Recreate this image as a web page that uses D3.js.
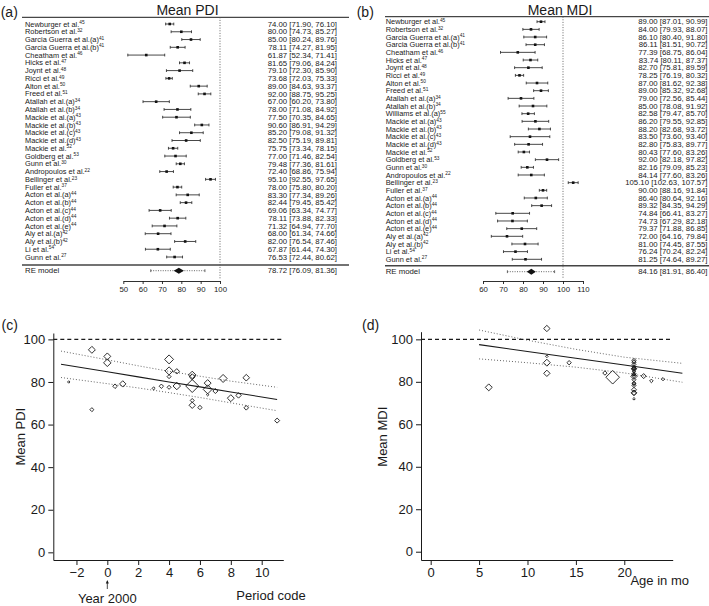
<!DOCTYPE html>
<html><head><meta charset="utf-8">
<script src="https://cdn.jsdelivr.net/npm/d3@7"></script>
<style>body{margin:0;background:#fff}svg{display:block;font-family:"Liberation Sans",Arial,Helvetica,sans-serif}</style>
</head><body><svg id="chart" width="709" height="606"></svg>
<script>
// ---------------- DATA ----------------
const pdiNames = ["Newburger et al.","Robertson et al.","Garcia Guerra et al.(a)","Garcia Guerra et al.(b)","Cheatham et al.","Hicks et al.","Joynt et al.","Ricci et al.","Alton et al.","Freed et al.","Atallah et al.(a)","Atallah et al.(b)","Mackie et al.(a)","Mackie et al.(b)","Mackie et al.(c)","Mackie et al.(d)","Mackie et al.","Goldberg et al.","Gunn et al.","Andropoulos et al.","Bellinger et al.","Fuller et al.","Acton et al.(a)","Acton et al.(b)","Acton et al.(c)","Acton et al.(d)","Acton et al.(e)","Aly et al.(a)","Aly et al.(b)","Li et al.","Gunn et al."];
const pdiRefs = [45,32,41,41,46,47,48,49,50,51,34,34,43,43,43,43,52,53,30,22,23,37,44,44,44,44,44,42,42,54,27];
const pdiMean = [74.00,80.00,85.00,78.11,61.87,81.65,79.10,73.68,89.00,92.00,67.00,78.00,77.50,90.60,85.20,82.50,75.75,77.00,79.48,72.40,95.10,78.00,83.30,82.44,69.06,78.11,71.32,68.00,82.00,67.87,76.53];
const pdiLo = [71.90,74.73,80.24,74.27,52.34,79.06,72.30,72.03,84.63,88.75,60.20,71.08,70.35,86.91,79.08,75.19,73.34,71.46,77.36,68.86,92.55,75.80,77.34,79.45,63.34,73.88,64.94,61.34,76.54,61.44,72.44];
const pdiHi = [76.10,85.27,89.76,81.95,71.41,84.24,85.90,75.33,93.37,95.25,73.80,84.92,84.65,94.29,91.32,89.81,78.15,82.54,81.61,75.94,97.65,80.20,89.26,85.42,74.77,82.33,77.70,74.66,87.46,74.30,80.62];
const pdiRE = [78.72, 76.09, 81.36];   // estimate, lower, upper
const pdiPI = [64.2, 92.2];            // prediction interval
const pdiTicks = [50,60,70,80,90,100];

const mdiNames = ["Newburger et al.","Robertson et al.","Garcia Guerra et al.(a)","Garcia Guerra et al.(b)","Cheatham et al.","Hicks et al.","Joynt et al.","Ricci et al.","Alton et al.","Freed et al.","Atallah et al.(a)","Atallah et al.(b)","Williams et al.(a)","Mackie et al.(a)","Mackie et al.(b)","Mackie et al.(c)","Mackie et al.(d)","Mackie et al.","Goldberg et al.","Gunn et al.","Andropoulos et al.","Bellinger et al.","Fuller et al.","Acton et al.(a)","Acton et al.(b)","Acton et al.(c)","Acton et al.(d)","Acton et al.(e)","Aly et al.(a)","Aly et al.(b)","Li et al.","Gunn et al."];
const mdiRefs = [45,32,41,41,46,47,48,49,50,51,34,34,55,43,43,43,43,52,53,30,22,23,37,44,44,44,44,44,42,42,54,27];
const mdiMean = [89.00,84.00,86.10,86.11,77.39,83.74,82.70,78.25,87.00,89.00,79.00,85.00,82.58,86.20,88.20,83.50,82.80,80.43,92.00,82.16,84.14,105.10,90.00,86.40,89.32,74.84,74.73,79.37,72.00,81.00,76.24,81.25];
const mdiLo = [87.01,79.93,80.40,81.51,68.75,80.11,75.81,76.19,81.62,85.32,72.56,78.08,79.47,79.55,82.68,73.60,75.83,77.60,86.18,79.09,77.60,102.63,88.16,80.64,84.35,66.41,67.29,71.88,64.16,74.45,70.24,74.64];
const mdiHi = [90.99,88.07,91.80,90.72,86.04,87.37,89.59,80.32,92.38,92.68,85.44,91.92,85.70,92.85,93.72,93.40,89.77,83.26,97.82,85.23,90.68,107.57,91.84,92.16,94.29,83.27,82.18,86.85,79.84,87.55,82.24,89.27];
// annotation text exactly as printed in the figure
const mdiText = ["89.00 [87.01, 90.99]","84.00 [79.93, 88.07]","86.10 [80.40, 91.80]","86.11 [81.51, 90.72]","77.39 [68.75, 86.04]","83.74 [80.11, 87.37]","82.70 [75.81, 89.59]","78.25 [76.19, 80.32]","87.00 [81.62, 92.38]","89.00 [85.32, 92.68]","79.00 [72.56, 85.44]","85.00 [78.08, 91.92]","82.58 [79.47, 85.70]","86.20 [79.55, 92.85]","88.20 [82.68, 93.72]","83.50 [73.60, 93.40]","82.80 [75.83, 89.77]","80.43 [77.60, 83.26]","92.00 [82.18, 97.82]","82.16 [79.09, 85.23]","84.14 [77.60, 83.26]","105.10 [102.63, 107.57]","90.00 [88.16, 91.84]","86.40 [80.64, 92.16]","89.32 [84.35, 94.29]","74.84 [66.41, 83.27]","74.73 [67.29, 82.18]","79.37 [71.88, 86.85]","72.00 [64.16, 79.84]","81.00 [74.45, 87.55]","76.24 [70.24, 82.24]","81.25 [74.64, 89.27]"];
const mdiRE = [84.16, 81.91, 86.40];
const mdiPI = [72.2, 95.8];
const mdiTicks = [60,70,80,90,100,110];

// (c) meta-regression on period code (PDI), one entry per PDI study
const pdiPeriod = [6.5,-2.5,4.5,4.5,11,7.5,1,8.5,0,0,-1,0.5,4,4,4,4,7,3,6.5,8,-1,3.5,5.5,5.5,5.5,5.5,5.5,6,9,9,6.5];
const pdiWeight = [1.5,1.5,7.3,14,6.3,16,10,7.3,14,12,4,5.3,4,20,16,4,6.3,2.3,12,12,12,4.8,14,9,10,42,4,4.8,11,5.3,20];
const periodTicks = [-2,0,2,4,6,8,10];
const cFitX = [-3,0,2,4,6,8,11];
const cFit = [88.3,84.8,82.4,80.0,77.7,75.3,71.8];
const cUpper = [94.5,90.4,87.6,85.0,82.7,80.4,77.5];
const cLower = [82.1,79.2,77.2,75.0,72.7,70.2,66.5];

// (d) meta-regression on age in months (MDI), one entry per MDI study
const mdiAge = [12,12,21,21,6,21,22,21,21,14.3,21,21,21,21,21,21,21,22.8,12,18.8,18,12,21,21,21,21,21,21,21,21,21,24];
const mdiWeight = [12,10,6.3,6.3,12,4.8,6.3,4,4.8,4.8,3.2,3.2,10,3.2,4,2.6,3.2,3.2,1.7,46,4.8,10,4.8,4,4.8,7.8,6.3,4,1.7,4,6.3,2.6];
const ageTicks = [0,5,10,15,20];
const dFitX = [5,10,15,20,26];
const dFit = [97.5,94.3,91.1,87.9,84.0];
const dUpper = [104.4,99.6,95.3,91.6,88.7];
const dLower = [90.8,89.0,86.9,84.2,79.8];
const yTicks = [0,20,40,60,80,100];

// ---------------- DRAWING ----------------
const svg = d3.select("#chart");
svg.append("rect").attr("width",709).attr("height",606).attr("fill","#fff");
const INK = "#1a1a1a";

function forest(o){
  const g = svg.append("g");
  const x = d3.scaleLinear(o.xDomain, o.xRange);
  const y = d3.scalePoint(d3.range(o.names.length), o.rowRange);
  g.append("text").attr("x",o.tagX).attr("y",16.5).attr("font-size",14).attr("fill",INK).text(o.tag);
  g.append("text").attr("x",o.titleX).attr("y",15.3).attr("font-size",14).attr("text-anchor","middle").attr("fill",INK).text(o.title);
  g.append("line").attr("x1",o.lineX[0]).attr("x2",o.lineX[1]).attr("y1",o.topY).attr("y2",o.topY)
    .attr("stroke",INK).attr("stroke-width",1);
  g.append("line").attr("x1",o.lineX[0]).attr("x2",o.sepX2).attr("y1",o.sepY).attr("y2",o.sepY)
    .attr("stroke","#444").attr("stroke-width",1.4);
  g.append("line").attr("x1",x(100)).attr("x2",x(100)).attr("y1",o.topY).attr("y2",o.axisY-2)
    .attr("stroke","#555").attr("stroke-width",0.9).attr("stroke-dasharray","1,1.6");

  const idx = d3.range(o.names.length);
  const lab = g.selectAll("text.lab").data(idx).join("text").attr("class","lab")
    .attr("x",o.labelX).attr("y",i=>y(i)).attr("dy","0.35em").attr("font-size",7.4).attr("fill",INK);
  lab.append("tspan").text(i=>o.names[i]);
  lab.append("tspan").attr("font-size",4.8).attr("dy",-2.4).text(i=>o.refs[i]);

  g.selectAll("line.ci").data(idx).join("line").attr("class","ci")
    .attr("x1",i=>x(o.lo[i])).attr("x2",i=>x(o.hi[i])).attr("y1",i=>y(i)).attr("y2",i=>y(i))
    .attr("stroke","#333").attr("stroke-width",0.9);
  ["lo","hi"].forEach(k=>{
    g.selectAll("line.cap"+k).data(idx).join("line").attr("class","cap"+k)
      .attr("x1",i=>x(o[k][i])).attr("x2",i=>x(o[k][i])).attr("y1",i=>y(i)-1.4).attr("y2",i=>y(i)+1.4)
      .attr("stroke","#333").attr("stroke-width",0.9);
  });
  g.selectAll("rect.pt").data(idx).join("rect").attr("class","pt")
    .attr("x",i=>x(o.mean[i])-1.3).attr("y",i=>y(i)-1.3).attr("width",2.6).attr("height",2.6).attr("fill","#111");
  g.selectAll("text.ann").data(idx).join("text").attr("class","ann")
    .attr("x",o.annX).attr("y",i=>y(i)).attr("dy","0.35em").attr("text-anchor","end").attr("font-size",7.8).attr("fill",INK)
    .text(i=>o.text(i));

  // RE model row
  const ry = o.reY;
  g.append("text").attr("x",o.labelX).attr("y",ry).attr("dy","0.35em").attr("font-size",7.8).attr("fill",INK).text("RE model");
  g.append("line").attr("x1",x(o.pi[0])).attr("x2",x(o.pi[1])).attr("y1",ry).attr("y2",ry)
    .attr("stroke","#555").attr("stroke-width",0.9).attr("stroke-dasharray","1,1.4");
  o.pi.forEach(v=>g.append("line").attr("x1",x(v)).attr("x2",x(v)).attr("y1",ry-1.4).attr("y2",ry+1.4).attr("stroke","#555").attr("stroke-width",0.9));
  g.append("path").attr("d",`M${x(o.re[1])},${ry}L${x(o.re[0])},${ry-3}L${x(o.re[2])},${ry}L${x(o.re[0])},${ry+3}Z`).attr("fill","#111");
  g.append("text").attr("x",o.annX).attr("y",ry).attr("dy","0.35em").attr("text-anchor","end").attr("font-size",7.8).attr("fill",INK)
    .text(`${d3.format(".2f")(o.re[0])} [${d3.format(".2f")(o.re[1])}, ${d3.format(".2f")(o.re[2])}]`);

  const ax = g.append("g").attr("transform",`translate(0,${o.axisY})`)
    .call(d3.axisBottom(x).tickValues(o.ticks).tickSize(3).tickSizeOuter(0).tickPadding(2.5));
  ax.selectAll("text").attr("font-size",7.8).attr("font-family","inherit").attr("fill",INK);
  ax.selectAll("path,line").attr("stroke",INK).attr("stroke-width",0.9);
}

const f2 = d3.format(".2f");
forest({tag:"(a)", tagX:0.7, title:"Mean PDI", titleX:187.5,
  names:pdiNames, refs:pdiRefs, mean:pdiMean, lo:pdiLo, hi:pdiHi, re:pdiRE, pi:pdiPI, ticks:pdiTicks,
  text:i=>`${f2(pdiMean[i])} [${f2(pdiLo[i])}, ${f2(pdiHi[i])}]`,
  xDomain:[50,100], xRange:[123.3,220], rowRange:[24,257], labelX:25, annX:337,
  topY:17.3, sepY:265, reY:270.7, axisY:281, lineX:[22,349], sepX2:349});
forest({tag:"(b)", tagX:356.7, title:"Mean MDI", titleX:560,
  names:mdiNames, refs:mdiRefs, mean:mdiMean, lo:mdiLo, hi:mdiHi, re:mdiRE, pi:mdiPI, ticks:mdiTicks,
  text:i=>mdiText[i],
  xDomain:[60,110], xRange:[483,583], rowRange:[21.7,259.3], labelX:385.7, annX:707.5,
  topY:16.7, sepY:265.7, reY:271.7, axisY:281, lineX:[385,709], sepX2:709});

function scatter(o){
  const g = svg.append("g");
  const x = d3.scaleLinear(o.xDomain, o.xRange);
  const y = d3.scaleLinear(o.yDomain, o.yRange);
  g.append("text").attr("x",o.tagX).attr("y",330).attr("font-size",14).attr("fill",INK).text(o.tag);
  const xa = g.append("g").attr("transform",`translate(0,${o.yRange[0]})`)
    .call(d3.axisBottom(x).tickValues(o.xTicks).tickSize(5).tickSizeOuter(0).tickPadding(3)
      .tickFormat(d=>d<0?"\u2212"+(-d):String(d)));
  const ya = g.append("g").attr("transform",`translate(${o.xRange[0]},0)`)
    .call(d3.axisLeft(y).tickValues(yTicks).tickSize(5).tickSizeOuter(0).tickPadding(3));
  [xa,ya].forEach(a=>{
    a.selectAll("text").attr("font-size",13).attr("font-family","inherit").attr("fill",INK);
    a.selectAll("path,line").attr("stroke",INK).attr("stroke-width",1);
  });
  g.append("line").attr("x1",o.xRange[0]).attr("x2",o.xRange[1]).attr("y1",y(100)).attr("y2",y(100))
    .attr("stroke",INK).attr("stroke-width",1.1).attr("stroke-dasharray","4,3");
  const line = d3.line().x((d,i)=>x(o.fitX[i])).y(d=>y(d));
  g.append("path").attr("d",line(o.fit)).attr("fill","none").attr("stroke",INK).attr("stroke-width",1.1);
  [o.upper,o.lower].forEach(b=>g.append("path").attr("d",line(b)).attr("fill","none")
    .attr("stroke","#555").attr("stroke-width",0.9).attr("stroke-dasharray","1,2"));
  const r = d3.scaleSqrt([0,d3.max(o.w)],[0,o.rMax]);
  const order = d3.range(o.xs.length).sort((a,b)=>o.w[b]-o.w[a]);
  g.selectAll("path.pt").data(order).join("path").attr("class","pt")
    .attr("d",i=>{const cx=x(o.xs[i]),cy=y(o.ys[i]),s=r(o.w[i]);return `M${cx},${cy-s}L${cx+s},${cy}L${cx},${cy+s}L${cx-s},${cy}Z`;})
    .attr("fill","#fff").attr("fill-opacity",0).attr("stroke",INK).attr("stroke-width",0.9);
  g.append("text").attr("transform",`translate(${o.yLabX},436.7) rotate(-90)`).attr("text-anchor","middle")
    .attr("dy","0.35em").attr("font-size",13).attr("fill",INK).text(o.yLabel);
  return {x,y,g};
}

const c = scatter({tag:"(c)", tagX:1.5, xs:pdiPeriod, ys:pdiMean, w:pdiWeight, rMax:6.5,
  xDomain:[-3.5,11.4], xRange:[53.3,283.3], yDomain:[-3.6,103], yRange:[560,333],
  xTicks:periodTicks, fitX:cFitX, fit:cFit, upper:cUpper, lower:cLower, yLabel:"Mean PDI", yLabX:20});
c.g.append("text").attr("x",271).attr("y",599.5).attr("text-anchor","middle").attr("font-size",13).attr("fill",INK).text("Period code");
c.g.append("text").attr("x",c.x(0)).attr("y",602.5).attr("text-anchor","middle").attr("font-size",13).attr("fill",INK).text("Year 2000");
c.g.append("line").attr("x1",c.x(0)).attr("x2",c.x(0)).attr("y1",589).attr("y2",581.5).attr("stroke",INK).attr("stroke-width",0.8);
c.g.append("path").attr("d",`M${c.x(0)-1.5},${583.5}L${c.x(0)},${580}L${c.x(0)+1.5},${583.5}Z`).attr("fill",INK);

const d = scatter({tag:"(d)", tagX:362, xs:mdiAge, ys:mdiMean, w:mdiWeight, rMax:6.8,
  xDomain:[-1,25], xRange:[421,672.7], yDomain:[-3.9,103.6], yRange:[560,331.7],
  xTicks:ageTicks, fitX:dFitX, fit:dFit, upper:dUpper, lower:dLower, yLabel:"Mean MDI", yLabX:382.7});
d.g.append("text").attr("x",659.7).attr("y",584.5).attr("text-anchor","middle").attr("font-size",13).attr("fill",INK).text("Age in mo");
</script></body></html>
